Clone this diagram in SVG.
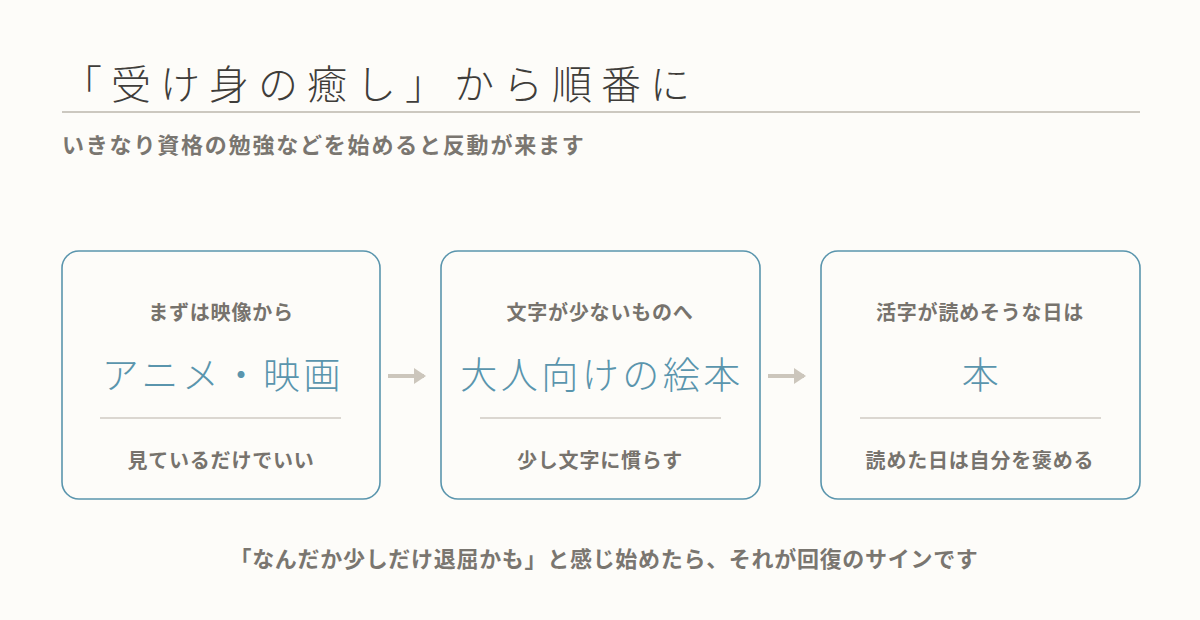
<svg xmlns="http://www.w3.org/2000/svg" width="1200" height="620" viewBox="0 0 1200 620">
<style>
.t{font-family:"Noto Sans CJK JP",sans-serif}
.lab{font-size:20px;font-weight:700;fill:#77736d;text-anchor:middle;letter-spacing:0.8px}
.main{font-size:37px;font-weight:300;fill:#5a95ad;text-anchor:middle;letter-spacing:3.5px}
.box{fill:#fdfcf9;stroke:#5a95ad;stroke-width:1.6}
.sep{stroke:#cfcbc3;stroke-width:1.5}
</style>
<defs><marker id="ah" markerWidth="4" markerHeight="4" refX="2.5" refY="2" orient="auto" markerUnits="strokeWidth"><path d="M0,0 L3,2 L0,4Z" fill="#ccc6bc"/></marker></defs>
<rect width="1200" height="620" fill="#fdfcf9"/>
<text class="t" x="62" y="99" font-size="40" font-weight="300" fill="#3f3d3a" letter-spacing="9">「受け身の癒し」から順番に</text>
<line x1="62" y1="112" x2="1140" y2="112" stroke="#ccc8c0" stroke-width="2"/>
<text class="t" x="62" y="153" font-size="22" font-weight="700" fill="#7a7670" letter-spacing="1.8">いきなり資格の勉強などを始めると反動が来ます</text>
<g id="n1"><rect class="box" x="62" y="251" width="318" height="248" rx="17" stroke-width="2.6"/>
<text class="t lab" x="221" y="320">まずは映像から</text><text class="t main" x="223" y="389">アニメ・映画</text>
<line class="sep" x1="100" y1="418" x2="341" y2="418"/><text class="t lab" x="221" y="468">見ているだけでいい</text></g>
<g id="n2"><rect class="box" x="441" y="251" width="319" height="248" rx="17"/>
<text class="t lab" x="600" y="320">文字が少ないものへ</text><text class="t main" x="602" y="389">大人向けの絵本</text>
<line class="sep" x1="480" y1="418" x2="721" y2="418"/><text class="t lab" x="600" y="468">少し文字に慣らす</text></g>
<g id="n3"><rect class="box" x="821" y="251" width="319" height="248" rx="17"/>
<text class="t lab" x="980" y="320">活字が読めそうな日は</text><text class="t main" x="982" y="389">本</text>
<line class="sep" x1="860" y1="418" x2="1101" y2="418"/><text class="t lab" x="980" y="468">読めた日は自分を褒める</text></g>
<g id="connectors" stroke="#ccc6bc" stroke-width="4">
<line x1="388" y1="376" x2="424" y2="376" marker-end="url(#ah)"/>
<line x1="768" y1="376" x2="804" y2="376" marker-end="url(#ah)"/>
</g>
<text class="t" x="604" y="567" font-size="22" font-weight="700" fill="#7a7670" text-anchor="middle" letter-spacing="0.7">「なんだか少しだけ退屈かも」と感じ始めたら、それが回復のサインです</text>
</svg>
